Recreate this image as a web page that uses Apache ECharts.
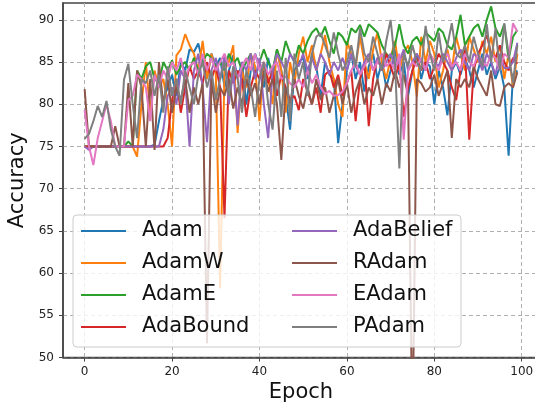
<!DOCTYPE html>
<html>
<head>
<meta charset="utf-8">
<script src="https://cdn.jsdelivr.net/npm/echarts@6/dist/echarts.min.js"></script>
<style>
  html, body { margin: 0; padding: 0; background: #fff; }
  #chart { width: 535px; height: 411px; }
</style>
</head>
<body>
<div id="chart"></div>
<script>
const epochs = Array.from({ length: 100 }, (_, i) => i);
const xTicks = [0, 20, 40, 60, 80, 100];
const yTicks = [50, 55, 60, 65, 70, 75, 80, 85, 90];

const names = ["Adam", "AdamW", "AdamE", "AdaBound", "AdaBelief", "RAdam", "EAdam", "PAdam"];
const colors = ["#1f77b4", "#ff7f0e", "#2ca02c", "#d62728", "#9467bd", "#8c564b", "#e377c2", "#7f7f7f"];

const adam = [
  75, 75, 75, 75, 75, 75, 75, 75, 75, 75,
  75, 75, 75, 75, 75, 75, 75.2, 78, 80.5, 82,
  83.5, 81, 85, 84, 86.5, 86.2, 87.2, 85, 83, 86,
  84.5, 85.5, 82, 84, 85.8, 83, 85, 80, 84, 86,
  84.5, 82, 85.5, 83, 86.5, 84, 81, 77, 84, 85,
  85.5, 83, 86, 84.5, 81, 85, 83.5, 83, 75.4, 80,
  84, 86, 83, 85, 81.5, 84.5, 86, 83, 85, 82,
  84, 86.5, 83.5, 85, 81, 84, 86, 83, 85, 84.5,
  80, 84, 82, 78.7, 84, 85, 83.5, 85.5, 84, 82,
  84, 86, 83.5, 85, 83, 84.5, 82, 73.9, 83.5, 84
];
const adamW = [
  75, 75, 75, 75, 75, 75, 75, 75, 75, 75,
  75, 75, 73.8, 80, 85, 79, 84, 82, 83, 80,
  75, 85.8, 86.5, 88.3, 87, 86, 84, 87.5, 83, 86,
  84, 58.2, 84, 85, 87, 76.6, 84, 82, 86, 84.5,
  78, 85, 83, 80, 86.5, 84, 79, 85, 82.5, 86,
  88, 85, 87, 84, 86, 88.2, 85, 83, 80, 78.5,
  87.5, 86, 84.5, 88, 85, 83, 86.5, 88.5, 85, 83,
  85.5, 87.5, 84, 86, 87, 85, 80.9, 88, 85, 87.5,
  86, 82, 84, 86.5, 84, 88, 86, 84, 88, 86.5,
  85, 87.5, 86, 88, 85, 87, 83, 86, 82, 86
];
const adamE = [
  75, 75, 75, 75, 75, 75, 75, 75, 75, 75,
  75.6, 75, 84, 83, 84.5, 85, 83, 82.5, 85, 84,
  85.2, 83.5, 84.5, 85, 84, 85.5, 84, 85, 86, 85.5,
  84.5, 85, 84, 86, 84.8, 85.5, 84, 85, 86, 83,
  85, 86.5, 85, 84, 86.5, 85, 87.5, 86, 85, 87,
  86, 87.5, 88.5, 89, 88, 89.2, 87.5, 86, 88.5, 88,
  87, 89, 88.5, 89.4, 88, 89.5, 89, 88.5, 87, 86,
  85.5, 87, 89.5, 87, 86, 87.5, 88, 87, 88.5, 88,
  87.5, 89, 88.5, 87, 86.5, 88, 90.6, 87, 88, 89,
  89.5, 88, 90, 91.6, 89, 88, 89.5, 85.3, 88, 88.8
];
const adaBound = [
  75, 75, 75, 75, 75, 75, 75, 75, 75, 75,
  75, 75, 75, 75, 75, 75, 75, 75, 75, 76,
  80.5, 83, 79, 82, 84.5, 83, 84, 82.5, 85, 83,
  84.5, 82, 66.5, 84, 82.5, 84, 83, 78.5, 82, 84,
  83, 85, 82.5, 84, 81, 83.5, 82, 80.5, 81, 79.3,
  83, 81.5, 80, 82, 79, 83.5, 84, 82, 83.5, 81,
  82.5, 84, 78, 83, 85, 77.4, 83, 85.5, 84, 86,
  84.5, 83, 85, 78.5, 82, 84, 85.5, 84, 85, 83,
  84.5, 86, 85, 84, 82, 80.5, 84, 86.5, 75.8, 84,
  86, 87, 88.2, 86, 85.5, 87, 85, 84, 85.5, 84.8
];
const adaBelief = [
  75, 74.6, 75, 75, 75, 75, 75, 75, 75, 75,
  75, 75, 75, 75, 75, 75, 75, 75, 77, 81,
  82, 80, 84, 83, 75, 84, 86, 82, 75.5, 84,
  85.5, 83, 85.8, 80, 84, 77.5, 85, 84, 86, 83,
  85.5, 80, 76, 84, 86, 85, 84, 86, 85, 84.5,
  86, 84, 85.5, 84, 86, 85, 83.5, 85, 84, 85.5,
  84, 86, 84.5, 83.5, 85, 86, 84, 85.5, 84, 85,
  86, 84.5, 85, 86.5, 84, 85, 86, 85, 84, 86,
  85, 84.5, 86, 85, 84, 85.5, 86.5, 85, 84, 86,
  85.5, 84, 86, 85, 83.5, 86, 84.3, 84.3, 85, 87.3
];
const rAdam = [
  81.8, 75, 75, 75, 75, 75, 75, 77.4, 75, 75,
  82.5, 75, 84, 82, 75, 83, 74.6, 85, 80, 83,
  79, 82, 80.5, 83, 79, 82, 80, 82.5, 51.7, 83,
  79, 82, 81, 83, 79.5, 82, 80, 83, 81, 82.5,
  80, 84, 81.5, 83, 80, 73.4, 82, 80, 83, 81,
  79.5, 82, 80, 83, 80.5, 82, 79, 81, 83, 80,
  82.5, 79, 81.5, 83, 80, 82, 81, 83, 80, 82.5,
  81.5, 84, 82, 83.5, 81, 40, 83, 82.5, 81.5, 82,
  83.5, 81, 82.5, 84, 76, 83, 82, 83, 82, 84.5,
  83, 82, 81, 84, 80, 79.8, 82, 82.5, 82, 83.8
];
const eAdam = [
  79.3, 75, 72.8, 76, 78, 80, 78, 75, 75, 75,
  80.5, 81, 83.5, 83, 82, 78, 83.5, 82, 84, 83,
  85, 84, 85.5, 83, 84.5, 85, 83.5, 86, 84, 85.5,
  84, 85, 86, 84.5, 85, 83, 84.5, 85.5, 84, 86,
  84, 85, 83.5, 84.5, 85, 83, 83.3, 82.5, 82, 83,
  82, 84, 82.5, 83.5, 82, 81.2, 81.6, 81, 81.1, 81.5,
  82.5, 84, 85, 83.5, 84.5, 85.5, 84, 85, 86, 84.5,
  85, 84, 86, 75.8, 84, 85, 84.5, 85.5, 84, 86,
  85, 84, 85.5, 86, 84.5, 85, 84, 86, 85, 84.5,
  86, 85, 84.5, 86, 85.5, 84, 86, 85.5, 89.6, 88.6
];
const pAdam = [
  75.9, 76.5, 78, 79.8, 78.5, 80.4, 77, 75, 73.9, 82.9,
  84.8, 80, 76, 83, 82.5, 84, 81, 83.5, 79, 84.5,
  81, 83, 80, 84, 82, 80, 83.5, 85, 82, 84,
  80.5, 83, 85, 81, 84.5, 83, 79, 84, 82, 78.5,
  83, 85, 80, 77, 84, 78.5, 85.5, 78, 86, 83,
  85, 81, 86, 88, 88.4, 87, 85.5, 88.5, 86, 84,
  85, 87, 84.5, 89, 86, 85, 88, 86, 84, 87.5,
  90, 85, 72.4, 86, 84.5, 87, 85, 84, 89.3, 86,
  84, 88.5, 85, 87, 89.6, 86, 85.5, 87, 85, 88,
  86, 84.5, 89.5, 85, 89, 84, 89.6, 86, 82.5, 87
];
const seriesValues = [adam, adamW, adamE, adaBound, adaBelief, rAdam, eAdam, pAdam];

const chart = echarts.init(document.getElementById("chart"), null, { renderer: "canvas" });

const tickFont = { fontFamily: "DejaVu Sans", fontSize: 12, color: "#222" };
const dashed = { show: true, lineStyle: { color: "#b0b0b0", width: 1, type: [4, 3] } };
const spine = { show: true, onZero: false, lineStyle: { color: "#444", width: 1.5 } };

const legendData = names.map((n, i) => ({
  name: n,
  textStyle: { width: i < 4 ? 140 : 100 }
}));
// matplotlib fills columns first; echarts fills rows, so interleave the two columns
const legendOrder = [0, 4, 1, 5, 2, 6, 3, 7].map((i) => legendData[i]);

chart.setOption({
  animation: false,
  color: colors,
  grid: {
    left: 63, right: -4, top: 3, bottom: 53.5,
    show: true, borderColor: "#444", borderWidth: 1.5,
    outerBoundsMode: "none"
  },
  xAxis: {
    type: "value",
    min: -4.95, max: 103.95,
    name: "Epoch", nameLocation: "middle", nameGap: 23,
    nameTextStyle: { fontFamily: "DejaVu Sans", fontSize: 21, color: "#111" },
    axisLine: spine,
    axisTick: { show: true, length: 4, customValues: xTicks, lineStyle: { color: "#444" } },
    axisLabel: Object.assign({ customValues: xTicks, margin: 8 }, tickFont),
    splitLine: dashed
  },
  yAxis: {
    type: "value",
    min: 50, max: 92,
    name: "Accuracy", nameLocation: "middle", nameGap: 33,
    nameTextStyle: { fontFamily: "DejaVu Sans", fontSize: 21, color: "#111" },
    axisLine: spine,
    axisTick: { show: true, length: 4, customValues: yTicks, lineStyle: { color: "#444" } },
    axisLabel: Object.assign({ customValues: yTicks, margin: 9 }, tickFont),
    splitLine: dashed
  },
  legend: {
    left: 73, top: 215, width: 380,
    orient: "horizontal",
    padding: [5, 8, 9, 8],
    itemGap: 10,
    itemWidth: 45, itemHeight: 2,
    icon: "rect",
    selectedMode: false,
    backgroundColor: "rgba(255,255,255,0.8)",
    borderColor: "#cccccc", borderWidth: 1, borderRadius: 4,
    textStyle: {
      fontFamily: "DejaVu Sans", fontSize: 21, color: "#111",
      lineHeight: 22, padding: [0, 0, 0, 11], overflow: "none"
    },
    data: legendOrder
  },
  series: names.map((n, i) => ({
    name: n,
    type: "line",
    showSymbol: false,
    clip: true,
    lineStyle: { width: 2 },
    data: epochs.map((e) => [e, seriesValues[i][e]])
  }))
});
</script>
</body>
</html>
